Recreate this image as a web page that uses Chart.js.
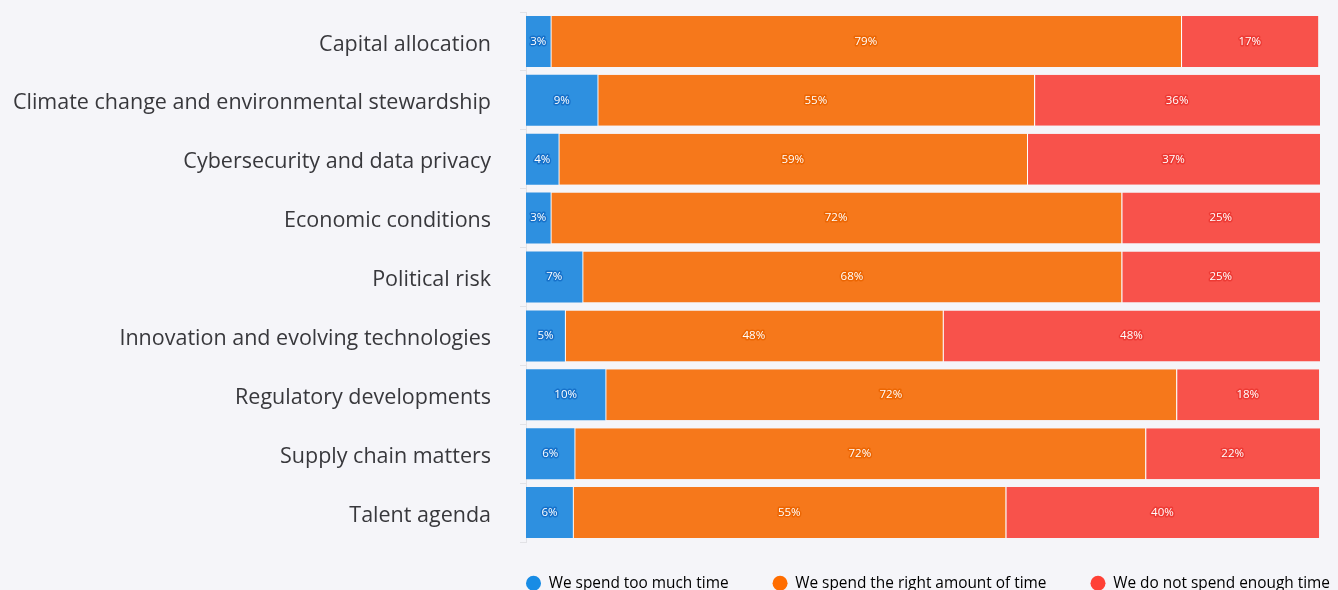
<!DOCTYPE html>
<html>
<head>
<meta charset="utf-8">
<script src="https://cdn.jsdelivr.net/npm/chart.js@4/dist/chart.umd.min.js"></script>
<style>
  html, body { margin: 0; padding: 0; background: #f5f5f9; overflow: hidden; }
  #wrap { width: 1338px; height: 590px; position: relative; }
</style>
</head>
<body>
<div id="wrap"><canvas id="chart"></canvas></div>
<script>
const categories = [
  "Capital allocation",
  "Climate change and environmental stewardship",
  "Cybersecurity and data privacy",
  "Economic conditions",
  "Political risk",
  "Innovation and evolving technologies",
  "Regulatory developments",
  "Supply chain matters",
  "Talent agenda",
];
const seriesNames = [
  "We spend too much time",
  "We spend the right amount of time",
  "We do not spend enough time",
];
const tooMuch = [3.1, 9.0, 4.1, 3.1, 7.1, 4.9, 10.0, 6.1, 5.9];
const rightAmount = [79.4, 55.0, 59.0, 71.9, 67.9, 47.6, 71.9, 71.9, 54.5];
const notEnough = [17.3, 36.0, 36.9, 25.0, 25.0, 47.5, 18.0, 22.0, 39.5];

const barColors = ["#2e90e0", "#f6781b", "#f8524b"];
const legendColors = ["#188ce5", "#ff6d00", "#ff4136"];
const outlineColors = ["rgba(20,110,200,0.9)", "rgba(235,100,0,0.9)", "rgba(235,55,50,0.9)"];
const fontFamily = "'Open Sans', 'Noto Sans', sans-serif";

// percentage labels in the middle of each segment
const segmentLabels = {
  id: "segmentLabels",
  afterDatasetsDraw(chart) {
    const ctx = chart.ctx;
    ctx.save();
    ctx.font = "11.5px " + fontFamily;
    ctx.textAlign = "center";
    ctx.textBaseline = "middle";
    ctx.lineJoin = "round";
    chart.data.datasets.forEach((ds, di) => {
      const meta = chart.getDatasetMeta(di);
      meta.data.forEach((bar, i) => {
        const text = Math.round(ds.data[i]) + "%";
        const cx = (bar.x + bar.base) / 2;
        ctx.lineWidth = 3;
        ctx.strokeStyle = outlineColors[di];
        ctx.strokeText(text, cx, bar.y);
        ctx.fillStyle = "#ffffff";
        ctx.fillText(text, cx, bar.y);
      });
    });
    ctx.restore();
  },
};

// keep the legend short so the plot reaches down, and move its row under the bars
const legendNudge = {
  id: "legendNudge",
  beforeUpdate(chart) {
    const lg = chart.legend;
    if (!lg || lg._nudged) return;
    const fit = lg.fit;
    lg.fit = function () {
      fit.call(this);
      this.height = 48;
    };
    // no clipping, so the last item may run past the plot's right edge
    lg.draw = function () {
      if (!this.options.display) return;
      const startX = this.left + this.options.labels.padding;
      this.ctx.save();
      this.ctx.translate(526 - startX, -10.5);
      this._draw();
      this.ctx.restore();
    };
    lg._nudged = true;
  },
};

const makeSet = (label, data, i) => ({
  label: label,
  data: data,
  backgroundColor: barColors[i],
  borderColor: "#ffffff",
  borderWidth: i === 0 ? 0 : { left: 1, right: 0, top: 0, bottom: 0 },
  borderSkipped: false,
  categoryPercentage: 1,
  barPercentage: 0.866,
});

new Chart(document.getElementById("chart"), {
  type: "bar",
  data: {
    labels: categories,
    datasets: [
      makeSet(seriesNames[0], tooMuch, 0),
      makeSet(seriesNames[1], rightAmount, 1),
      makeSet(seriesNames[2], notEnough, 2),
    ],
  },
  options: {
    indexAxis: "y",
    responsive: true,
    maintainAspectRatio: false,
    animation: false,
    layout: { padding: { top: 12, right: 18, left: 0, bottom: 0 } },
    scales: {
      x: {
        stacked: true,
        min: 0,
        max: 100,
        display: false,
      },
      y: {
        stacked: true,
        grid: {
          drawOnChartArea: false,
          drawTicks: true,
          tickLength: 6,
          color: "#e2e2e6",
        },
        border: { display: true, color: "#e2e2e6", width: 1 },
        ticks: {
          color: "#38383c",
          padding: 29,
          labelOffset: 3,
          font: { family: fontFamily, size: 21.5 },
        },
        afterFit(scale) {
          scale.width = 526;
          scale.paddingTop = 0;
          scale.paddingBottom = 0;
        },
      },
    },
    plugins: {
      tooltip: { enabled: false },
      legend: {
        position: "bottom",
        fullSize: true,
        align: "start",
        labels: {
          usePointStyle: true,
          pointStyle: "circle",
          pointStyleWidth: 15,
          boxHeight: 10.6,
          padding: 44,
          color: "#38383c",
          font: { family: fontFamily, size: 15.4 },
          generateLabels(chart) {
            return chart.data.datasets.map((ds, i) => ({
              text: ds.label,
              fillStyle: legendColors[i],
              strokeStyle: legendColors[i],
              lineWidth: 0,
              pointStyle: "circle",
              hidden: false,
              datasetIndex: i,
            }));
          },
        },
      },
    },
  },
  plugins: [segmentLabels, legendNudge],
});
</script>
</body>
</html>
